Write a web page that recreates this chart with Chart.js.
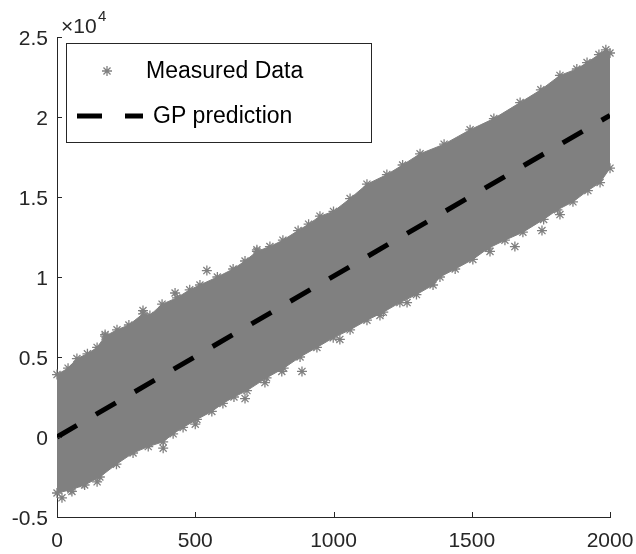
<!DOCTYPE html>
<html>
<head>
<meta charset="utf-8">
<script src="https://cdn.jsdelivr.net/npm/chart.js@4.4.1/dist/chart.umd.min.js"></script>
<style>
  body { margin: 0; background: #fff; }
  canvas { display: block; }
</style>
</head>
<body>
<canvas id="gpChart" width="636" height="554"></canvas>
<script>
const upperX = [0, 40, 72, 110, 145, 174, 217, 260, 311, 336, 380, 434, 480, 517, 580, 637, 680, 723, 770, 817, 872, 910, 951, 1000, 1060, 1121, 1193, 1250, 1313, 1400, 1494, 1580, 1675, 1750, 1819, 1880, 1917, 1960, 1985, 2000]
const upperY = [3900, 4300, 4900, 5200, 5600, 6300, 6700, 7000, 7700, 7600, 8300, 8700, 9200, 9500, 10000, 10500, 11000, 11600, 11900, 12300, 12900, 13300, 13800, 14100, 14900, 15800, 16400, 17000, 17700, 18300, 19200, 19900, 20900, 21700, 22600, 23000, 23400, 23900, 24200, 24000]

// lower edge of the cloud
const lowerX = [0, 50, 100, 155, 215, 275, 330, 384, 420, 456, 506, 560, 600, 640, 687, 758, 820, 879, 940, 999, 1060, 1121, 1180, 1240, 1300, 1360, 1385, 1440, 1504, 1560, 1620, 1685, 1760, 1810, 1866, 1920, 1964, 2000]
const lowerY = [-3500, -3300, -3000, -2500, -1700, -1000, -600, -300, 200, 600, 1100, 1600, 2100, 2500, 2900, 3700, 4300, 5000, 5600, 6200, 6700, 7300, 7800, 8400, 8900, 9500, 10000, 10500, 11100, 11800, 12300, 12800, 13600, 14200, 14700, 15400, 15900, 16800]

// single stray points outside the cloud
const outX = [18, 54, 94, 145, 384, 500, 680, 752, 813, 886, 1023, 1168, 1266, 1566, 1656, 1754, 1819, 174, 311, 427, 542, 723]
const outY = [-3800, -3400, -2900, -2800, -700, 800, 2400, 3400, 4100, 4100, 6100, 7600, 8400, 11600, 11900, 12900, 13900, 6400, 7900, 9000, 10400, 11700]

// GP prediction
const gpX = [0, 2000]
const gpY = [0, 20100]

const yTickLabels = ['-0.5', '0', '0.5', '1', '1.5', '2', '2.5']
const xTickLabels = ['0', '500', '1000', '1500', '2000']

const labels = ['Measured Data', 'GP prediction']

function toPoints(xs, ys){
    return xs.map((x, i) => ({x: x, y: ys[i]}))
}

const grey = '#808080'
const axisColor = '#262626'
const fontName = '"Liberation Sans", Arial, sans-serif'

const starStyle = {
    showLine: false,
    pointStyle: 'star',
    pointRadius: 5,
    pointBorderWidth: 1.3,
    pointBorderColor: grey,
    pointBackgroundColor: grey,
    clip: 8,
    order: 2
}

// keep the plot box where the layout padding puts it
function noLabelPadding(scale){
    scale.paddingLeft = 0
    scale.paddingRight = 0
    scale.paddingTop = 0
    scale.paddingBottom = 0
}

// inner tick marks, x10^4 label and the boxed legend
const extras = {
    id: 'extras',
    afterDatasetsDraw(chart){
        const c = chart.ctx
        const area = chart.chartArea
        const xs = chart.scales.x
        const ys = chart.scales.y
        c.save()
        c.strokeStyle = axisColor
        c.lineWidth = 1
        c.beginPath()
        ys.ticks.forEach(t => {
            const py = Math.round(ys.getPixelForValue(t.value)) + 0.5
            c.moveTo(area.left, py)
            c.lineTo(area.left + 5, py)
        })
        xs.ticks.forEach(t => {
            const px = Math.round(xs.getPixelForValue(t.value)) + 0.5
            c.moveTo(px, area.bottom)
            c.lineTo(px, area.bottom - 5)
        })
        c.stroke()

        c.fillStyle = axisColor
        c.textBaseline = 'alphabetic'
        c.font = '21px ' + fontName
        c.fillText('\u00d710', 61, 33)
        c.font = '15px ' + fontName
        c.fillText('4', 98, 21)

        // legend
        c.fillStyle = '#fff'
        c.fillRect(66.5, 43.5, 305, 99)
        c.strokeStyle = axisColor
        c.strokeRect(66.5, 43.5, 305, 99)

        c.strokeStyle = grey
        c.fillStyle = grey
        c.lineWidth = 1.3
        Chart.helpers.drawPoint(c, {pointStyle: 'star', radius: 5, borderWidth: 1.3}, 107, 71)

        c.strokeStyle = '#000'
        c.lineWidth = 5
        c.setLineDash([25, 23])
        c.beginPath()
        c.moveTo(77, 116)
        c.lineTo(143, 116)
        c.stroke()
        c.setLineDash([])

        c.fillStyle = '#000'
        c.font = '23px ' + fontName
        c.textBaseline = 'middle'
        c.fillText(chart.data.datasets[0].label, 146, 72)
        c.fillText(chart.data.datasets[3].label, 153, 117)
        c.restore()
    }
}

const ctx = document.getElementById('gpChart').getContext('2d')
const gpChart = new Chart(ctx, {
    type: 'line',
    data: {
        datasets: [
            Object.assign({
                label: labels[0],
                data: toPoints(upperX, upperY),
                borderColor: grey,
                borderWidth: 1,
                backgroundColor: grey,
                fill: '+1'
            }, starStyle, {showLine: true}),
            Object.assign({
                label: 'lower',
                data: toPoints(lowerX, lowerY),
                borderColor: grey,
                borderWidth: 1,
                fill: false
            }, starStyle, {showLine: true}),
            Object.assign({
                label: 'outliers',
                data: toPoints(outX, outY),
                fill: false
            }, starStyle),
            {
                label: labels[1],
                data: toPoints(gpX, gpY),
                borderColor: '#000',
                borderWidth: 5,
                borderDash: [23, 22],
                borderCapStyle: 'butt',
                pointRadius: 0,
                fill: false,
                order: 0
            }
        ]
    },
    options: {
        responsive: false,
        animation: false,
        layout: {
            padding: {left: 0, top: 37, right: 26, bottom: 0}
        },
        plugins: {
            legend: {display: false},
            tooltip: {enabled: false}
        },
        scales: {
            x: {
                type: 'linear',
                min: 0,
                max: 2000,
                afterFit: (scale) => { scale.height = 37; noLabelPadding(scale) },
                grid: {display: false, drawTicks: false},
                border: {display: true, color: axisColor, width: 1},
                ticks: {
                    stepSize: 500,
                    padding: 12,
                    maxRotation: 0,
                    color: axisColor,
                    font: {family: fontName, size: 21},
                    callback: (v, i) => xTickLabels[i]
                }
            },
            y: {
                type: 'linear',
                min: -5000,
                max: 25000,
                afterFit: (scale) => { scale.width = 57; noLabelPadding(scale) },
                grid: {display: false, drawTicks: false},
                border: {display: true, color: axisColor, width: 1},
                ticks: {
                    stepSize: 5000,
                    padding: 9,
                    labelOffset: 2,
                    color: axisColor,
                    font: {family: fontName, size: 21},
                    callback: (v, i) => yTickLabels[i]
                }
            }
        }
    },
    plugins: [extras]
})
</script>
</body>
</html>
